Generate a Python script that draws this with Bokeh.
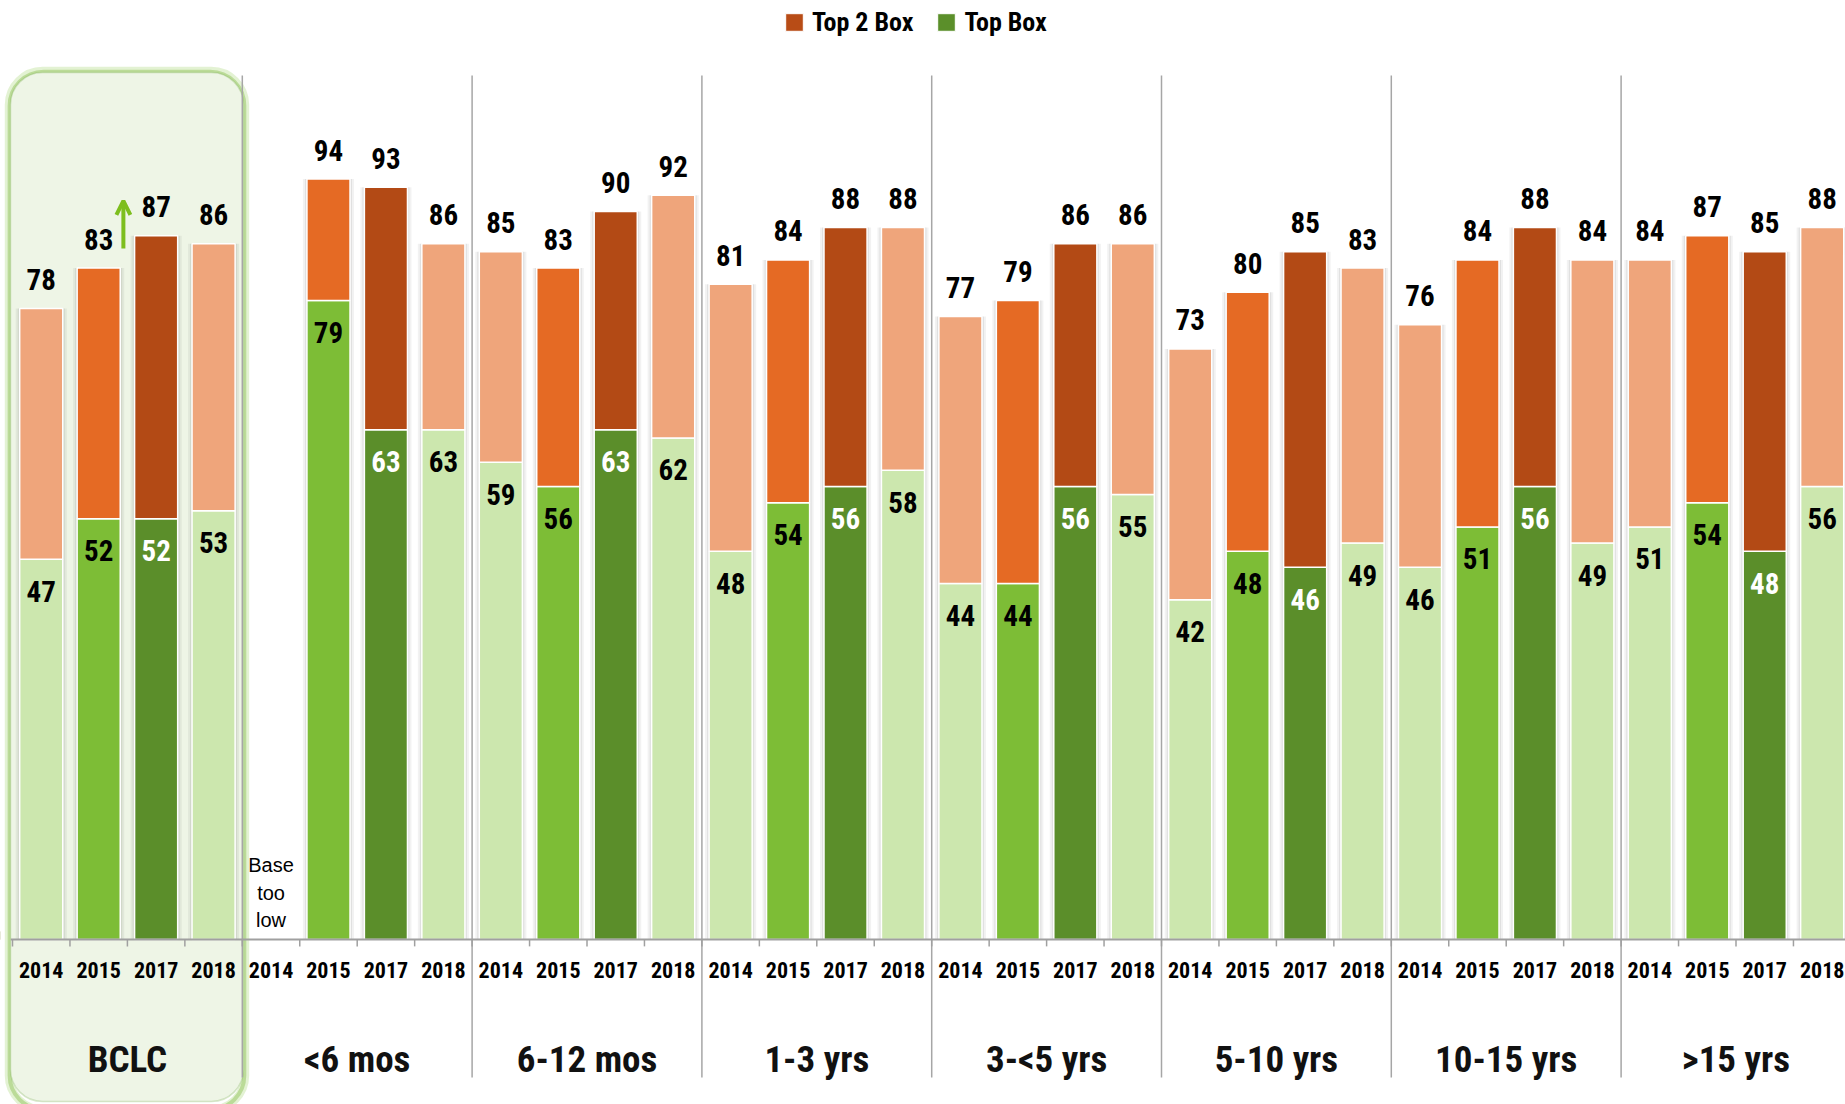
from bokeh.plotting import figure
from bokeh.models import ColumnDataSource, Range1d, BoxAnnotation, Arrow, OpenHead, Legend, LegendItem
from bokeh.core.properties import value
from bokeh.embed import file_html
from bokeh.resources import INLINE

groups = ["BCLC", "<6 mos", "6-12 mos", "1-3 yrs", "3-<5 yrs", "5-10 yrs", "10-15 yrs", ">15 yrs"]
years = ["2014", "2015", "2017", "2018"]
top2_box = [
    [78, 83, 87, 86],
    [None, 94, 93, 86],
    [85, 83, 90, 92],
    [81, 84, 88, 88],
    [77, 79, 86, 86],
    [73, 80, 85, 83],
    [76, 84, 88, 84],
    [84, 87, 85, 88],
]
top_box = [
    [47, 52, 52, 53],
    [None, 79, 63, 63],
    [59, 56, 63, 62],
    [48, 54, 56, 58],
    [44, 44, 56, 55],
    [42, 48, 46, 49],
    [46, 51, 56, 49],
    [51, 54, 48, 56],
]
top2_colors = ["#EFA57B", "#E56A24", "#B34A15", "#EFA57B"]
top_colors = ["#CCE7AE", "#7DBD36", "#5B8E2A", "#CCE7AE"]
top_label_colors = ["#000000", "#000000", "#FFFFFF", "#000000"]

FONT = "Roboto Condensed"
BAR_W = 0.75
PX_PER_UNIT = 8.09

rows = dict(x=[], t2b=[], tb=[], c2=[], c1=[], lc=[], t2b_lab=[], tb_lab=[])
missing_x = []
for gi, g in enumerate(groups):
    for yi, yr in enumerate(years):
        xc = gi * 4 + yi + 0.5
        a, b = top2_box[gi][yi], top_box[gi][yi]
        if a is None:
            missing_x.append(xc)
            continue
        rows["x"].append(xc)
        rows["t2b"].append(a)
        rows["tb"].append(b)
        rows["c2"].append(top2_colors[yi])
        rows["c1"].append(top_colors[yi])
        rows["lc"].append(top_label_colors[yi])
        rows["t2b_lab"].append(str(a))
        rows["tb_lab"].append(str(b))
src = ColumnDataSource(rows)

n_slots = len(groups) * len(years)
p = figure(width=1845, height=1104,
           x_range=Range1d(-0.209, 31.906),
           y_range=Range1d(-1104 / PX_PER_UNIT + 939 / PX_PER_UNIT, 939 / PX_PER_UNIT),
           output_backend="svg", toolbar_location=None,
           x_axis_location=None, y_axis_location=None,
           min_border=0, outline_line_color=None, background_fill_color="white")
p.grid.visible = False

# BCLC highlight box
top_v = (939 - 72) / PX_PER_UNIT
bot_v = (939 - 1101) / PX_PER_UNIT
for extra, col, lw, la in [(0.03, "#C8E6A8", 8, 0.5), (0.015, "#A9D27F", 4, 0.7)]:
    p.add_layout(BoxAnnotation(left=-0.035 - extra, right=4.02 + extra, top=top_v + extra * 7, bottom=bot_v - 1,
                               border_radius=34, fill_color=None, line_color=col, line_width=lw,
                               line_alpha=la, level="underlay"))
p.add_layout(BoxAnnotation(left=-0.035, right=4.02, top=top_v, bottom=bot_v,
                           border_radius=32, fill_color="#EEF5E6", fill_alpha=1.0,
                           line_color="#7FAE55", line_width=1.5, level="underlay"))

# group separators
seps = [4 * g for g in range(1, len(groups))]
p.segment(x0=seps, x1=seps, y0=[(939 - 75) / PX_PER_UNIT] * len(seps),
          y1=[(939 - 1077) / PX_PER_UNIT] * len(seps), line_color="#A6A6A6", line_width=1.5)

# shadows
p.vbar(x="x", top="t2b", bottom=0, width=BAR_W + 0.14, source=src, fill_color="#000000",
       fill_alpha=0.05, line_color=None)
p.vbar(x="x", top="t2b", bottom=0, width=BAR_W + 0.07, source=src, fill_color="#000000",
       fill_alpha=0.07, line_color=None)

# bars
p.vbar(x="x", top="tb", bottom=0, width=BAR_W, source=src, fill_color="c1",
       line_color="white", line_width=1.5)
p.vbar(x="x", top="t2b", bottom="tb", width=BAR_W, source=src, fill_color="c2",
       line_color="white", line_width=1.5)

# baseline & ticks
p.segment(x0=[-0.03], x1=[31.95], y0=[0], y1=[0], line_color="#A0A0A0", line_width=2)
tk = list(range(0, n_slots + 1))
p.segment(x0=tk, x1=tk, y0=[0] * len(tk), y1=[-0.85] * len(tk), line_color="#A0A0A0", line_width=1.5)

# value labels
p.text(x="x", y="t2b", text="t2b_lab", source=src, y_offset=-29, text_align="center",
       text_baseline="middle", text_font=value(FONT), text_font_style="bold",
       text_font_size="29px", text_color="#000000")
p.text(x="x", y="tb", text="tb_lab", source=src, y_offset=32, text_align="center",
       text_baseline="middle", text_font=value(FONT), text_font_style="bold",
       text_font_size="29px", text_color="lc")

# base too low
p.text(x=missing_x, y=[0] * len(missing_x), text=["Base\ntoo\nlow"] * len(missing_x), y_offset=-47,
       text_align="center", text_baseline="middle", text_font=value("Liberation Sans"),
       text_font_size="20px", text_line_height=1.25, text_color="#000000")

# year labels
yx = [gi * 4 + yi + 0.5 for gi in range(len(groups)) for yi in range(len(years))]
ylab = [yr for _ in groups for yr in years]
p.text(x=yx, y=[0] * len(yx), text=ylab, y_offset=30, text_align="center", text_baseline="middle",
       text_font=value(FONT), text_font_style="bold", text_font_size="22px", text_color="#000000")

# group labels
gx = [gi * 4 + 2 for gi in range(len(groups))]
p.text(x=gx, y=[0] * len(gx), text=groups, y_offset=120, text_align="center", text_baseline="middle",
       text_font=value(FONT), text_font_style="bold", text_font_size="37px", text_color="#111111")

# arrow in BCLC
p.add_layout(Arrow(end=OpenHead(size=14, line_color="#7DBE1E", line_width=4),
                   x_start=1.93, y_start=85.4, x_end=1.93, y_end=91.3,
                   line_color="#7DBE1E", line_width=4))

# legend (dummy renderers placed outside the visible range)
r1 = p.vbar(x=[-100], top=[1], width=0.5, fill_color="#B84C16", line_color="white", line_width=1)
r2 = p.vbar(x=[-100], top=[1], width=0.5, fill_color="#5B8F2A", line_color="white", line_width=1)
leg = Legend(items=[LegendItem(label="Top 2 Box", renderers=[r1]), LegendItem(label="Top Box", renderers=[r2])],
             orientation="horizontal", location=(783, 1104 - 37), padding=2, margin=0, spacing=22,
             glyph_width=22, glyph_height=22, label_standoff=7, border_line_color=None,
             background_fill_alpha=0, label_text_font=FONT, label_text_font_style="bold",
             label_text_font_size="26px", label_text_color="#000000")
p.add_layout(leg)

open("out.html", "w").write(file_html(p, INLINE))
